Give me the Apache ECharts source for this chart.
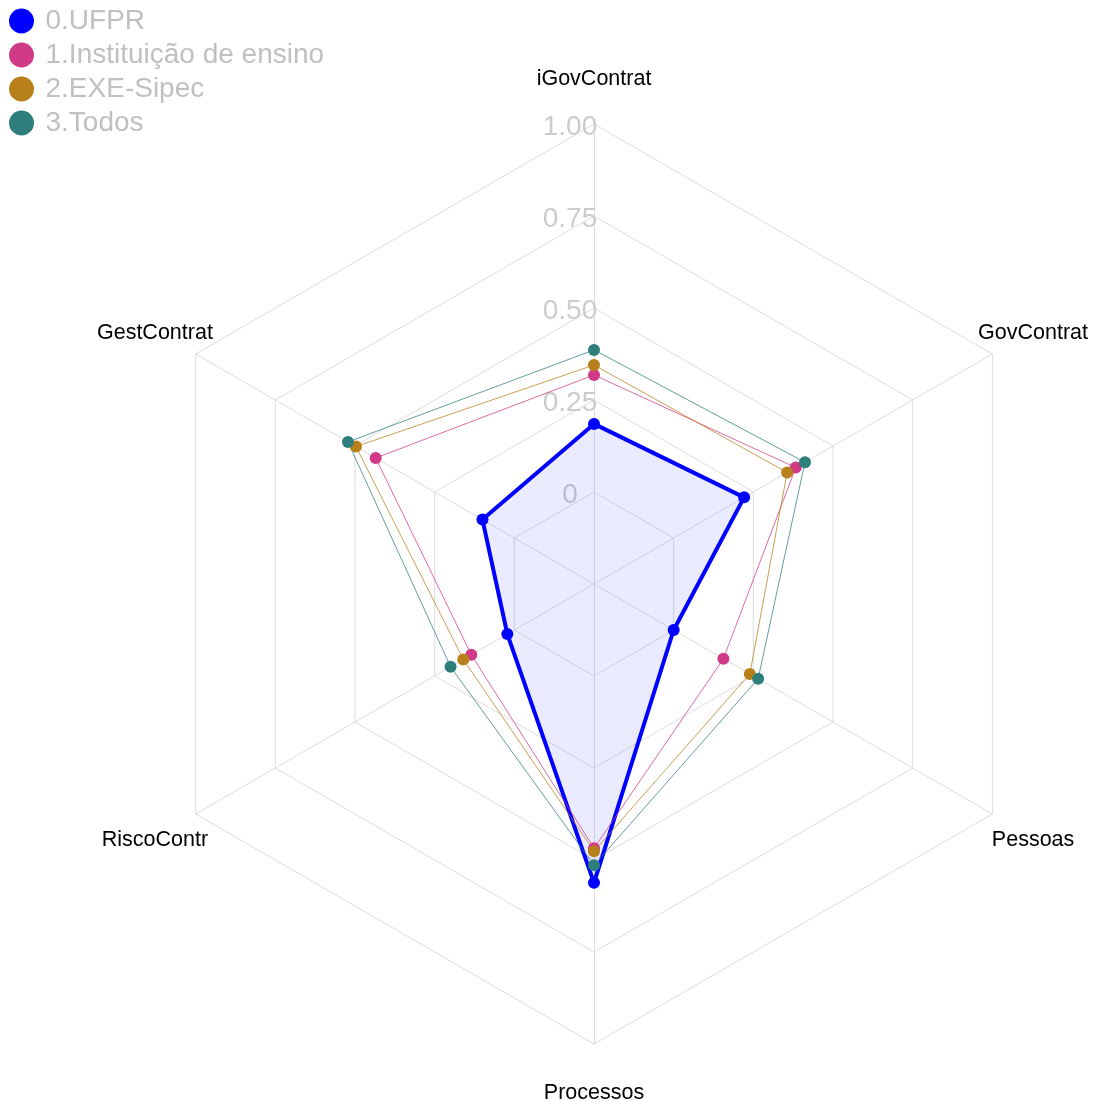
<!DOCTYPE html>
<html><head><meta charset="utf-8">
<script src="https://cdn.jsdelivr.net/npm/echarts@6/dist/echarts.min.js"></script>
<style>html,body{margin:0;padding:0;background:#fff}#c{width:1095px;height:1101px}</style>
</head><body><div id="c"></div>
<script>
// Indicators in ECharts order (counter-clockwise from top)
const categories = ['iGovContrat', 'GestContrat', 'RiscoContr', 'Processos', 'Pessoas', 'GovContrat'];
const groups = ['0.UFPR', '1.Instituição de ensino', '2.EXE-Sipec', '3.Todos'];
const ufpr        = [0.185, 0.100, 0.022, 0.562, 0.000, 0.221];
const instituicao = [0.318, 0.435, 0.135, 0.468, 0.156, 0.383];
const exeSipec    = [0.345, 0.497, 0.160, 0.476, 0.239, 0.356];
const todos       = [0.386, 0.522, 0.200, 0.514, 0.265, 0.412];
const tickLabels  = ['0', '0.25', '0.50', '0.75', '1.00'];
const tickValues  = [0, 0.25, 0.5, 0.75, 1];
const colors = ['#0000FF', '#D13A86', '#B8801B', '#2E7E7C'];

const font = "'Liberation Sans', Arial, sans-serif";
const seriesValues = [ufpr, instituicao, exeSipec, todos];

const indicator = categories.map((name, i) => {
  const o = { name: name, min: -0.25, max: 1 };
  if (i === 0) {
    o.axisLabel = {
      show: true, color: '#cccccc', fontSize: 28, fontFamily: font,
      align: 'center', verticalAlign: 'middle', margin: 24,
      formatter: v => {
        const k = tickValues.findIndex(t => Math.abs(t - v) < 1e-6);
        return k >= 0 ? '{a|' + tickLabels[k] + '}' : '';
      },
      rich: { a: { fontSize: 28, fontFamily: font, color: '#cccccc', padding: [6, 0, 0, 0] } }
    };
  }
  return o;
});

const chart = echarts.init(document.getElementById('c'), null, { renderer: 'canvas' });
chart.setOption({
  animation: false,
  color: colors,
  legend: {
    orient: 'vertical', left: 4, top: 2,
    itemWidth: 38, itemHeight: 25, itemGap: 6, icon: 'circle',
    textStyle: { color: '#c0c0c0', fontSize: 28, fontFamily: font },
    data: groups
  },
  radar: {
    center: [594, 584], radius: 460, shape: 'polygon',
    splitNumber: 5, startAngle: 90,
    indicator: indicator,
    nameGap: 47,
    axisName: {
      color: '#000', fontSize: 21.5, fontFamily: font, align: 'center', verticalAlign: 'middle',
      formatter: n => '{n|' + n + '}',
      rich: { n: { color: '#000', fontSize: 21.5, fontFamily: font, padding: [5, 0, 0, 0] } }
    },
    axisLine: { lineStyle: { color: '#dddddd', width: 1 } },
    splitLine: { lineStyle: { color: '#dddddd', width: 1 } },
    splitArea: { show: false },
    axisTick: { show: false },
    axisLabel: { show: false }
  },
  series: [{
    type: 'radar',
    symbol: 'circle',
    data: groups.map((g, i) => ({
      name: g,
      value: seriesValues[i],
      symbolSize: 12,
      lineStyle: { color: colors[i], width: i === 0 ? 4 : 1, opacity: i === 0 ? 1 : 0.75 },
      itemStyle: { color: colors[i] },
      areaStyle: i === 0 ? { color: 'rgba(0,0,255,0.11)' } : undefined,
      z: i
    }))
  }]
});
</script></body></html>
